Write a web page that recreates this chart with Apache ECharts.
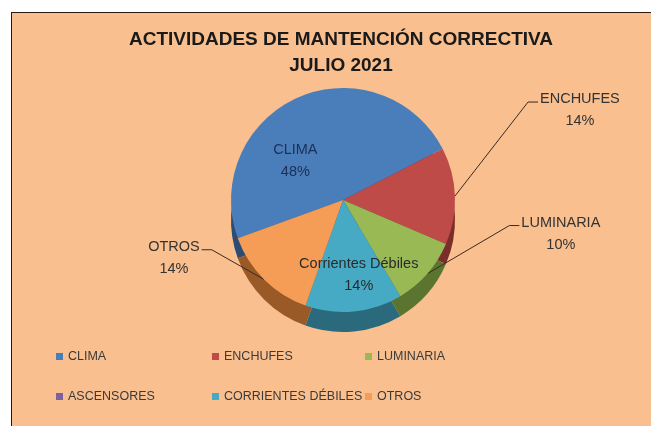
<!DOCTYPE html>
<html>
<head>
<meta charset="utf-8">
<script src="https://cdn.jsdelivr.net/npm/echarts@6/dist/echarts.min.js"></script>
<style>
  html, body { margin: 0; padding: 0; background: #fff; overflow: hidden; }
  #chart {
    position: absolute; left: 11px; top: 12px;
    width: 640px; height: 414px;
    border-left: 1px solid #2b1a12; border-top: 1px solid #2b1a12;
    background: #f9bf8f;
  }
</style>
</head>
<body>
<div id="chart"></div>
<script>
const categories = ['CLIMA', 'ENCHUFES', 'LUMINARIA', 'ASCENSORES', 'CORRIENTES DÉBILES', 'OTROS'];
const sliceLabels = ['CLIMA', 'ENCHUFES', 'LUMINARIA', 'ASCENSORES', 'Corrientes Débiles', 'OTROS'];
const values = [48, 14, 10, 0, 14, 14];
const colors = ['#4a7ebb', '#be4b48', '#98b954', '#7d60a0', '#46aac5', '#f59d56'];
const sideColors = ['#2c4c74', '#7a2e2c', '#5b7530', '#4d3a63', '#2a6a7c', '#9a5a28'];
const insideLabels = ['CLIMA', 'CORRIENTES DÉBILES'];

// nudges so labels sit where Excel put them around its tilted pie
const labelNudge = {
  'CLIMA': [-24, 15],
  'ENCHUFES': [80, -85],
  'LUMINARIA': [96, -60],
  'CORRIENTES DÉBILES': [10, 16],
  'OTROS': [-54, -43]
};

const chart = echarts.init(document.getElementById('chart'));

const topData = categories.map((name, i) => {
  const item = { name, value: values[i], itemStyle: { color: colors[i] } };
  if (values[i] === 0) {
    item.label = { show: false };
    item.labelLine = { show: false };
  } else if (insideLabels.includes(name)) {
    item.label = { position: 'inside', color: name === 'CLIMA' ? '#1c2f55' : '#2a2a2a' };
  }
  return item;
});

const sideData = categories.map((name, i) => ({
  name, value: values[i], itemStyle: { color: sideColors[i] }
}));

const center = [331, 187];
const radius = 112;

const legendCol = (items, left) => ({
  data: items,
  orient: 'vertical',
  left: left, top: 332,
  itemGap: 27, itemWidth: 7, itemHeight: 7, icon: 'rect',
  textStyle: { fontFamily: 'Liberation Sans', fontSize: 12.5, color: '#3a3a3a' }
});

function placeLabel(p) {
  const n = labelNudge[categories[p.dataIndex]];
  if (!n) return {};
  const r = p.labelRect;
  const pts = p.labelLinePoints;
  if (!pts || insideLabels.includes(categories[p.dataIndex])) {
    return { dx: n[0], dy: n[1] };
  }
  const onLeft = p.align === 'right';
  const anchorX = onLeft ? r.x + r.width : r.x;
  const cx = anchorX + n[0];
  const cy = r.y + r.height / 2 + n[1];
  const lineY = cy - 8;
  const endX = onLeft ? cx + r.width / 2 + 2 : cx - r.width / 2 - 2;
  const kneeX = onLeft ? endX + 10 : endX - 10;
  return {
    x: cx, y: cy, align: 'center', verticalAlign: 'middle',
    labelLinePoints: [pts[0], [kneeX, lineY], [endX, lineY]]
  };
}

chart.setOption({
  backgroundColor: '#f9bf8f',
  animation: false,
  title: {
    text: 'ACTIVIDADES DE MANTENCIÓN CORRECTIVA\nJULIO 2021',
    left: 324, top: 9, textAlign: 'center',
    textStyle: {
      fontFamily: 'Liberation Sans', fontSize: 19, fontWeight: 'bold',
      color: '#1a1a1a', lineHeight: 26
    }
  },
  legend: [
    legendCol([categories[0], categories[3]], 39),
    legendCol([categories[1], categories[4]], 195),
    legendCol([categories[2], categories[5]], 348)
  ],
  series: [
    {
      name: 'top',
      type: 'pie',
      z: 3,
      center: center,
      radius: radius,
      startAngle: 200,
      clockwise: true,
      avoidLabelOverlap: false,
      data: topData,
      itemStyle: { borderWidth: 0 },
      label: {
        fontFamily: 'Liberation Sans', fontSize: 14.5, color: '#333', lineHeight: 22,
        align: 'center',
        formatter: p => sliceLabels[p.dataIndex] + '\n' + Math.round(p.percent) + '%'
      },
      labelLine: { length: 30, length2: 10, lineStyle: { color: '#3a2a20', width: 1 } },
      labelLayout: placeLabel
    },
    {
      name: 'side',
      type: 'pie',
      z: 2,
      silent: true,
      center: [center[0], center[1] + 20],
      radius: radius,
      startAngle: 200,
      clockwise: true,
      data: sideData,
      itemStyle: { borderWidth: 0 },
      label: { show: false },
      labelLine: { show: false }
    }
  ]
});
</script>
</body>
</html>
